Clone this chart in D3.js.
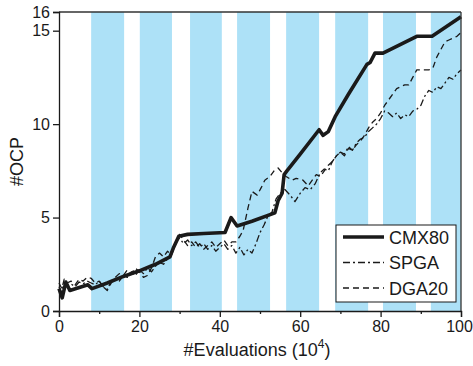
<!DOCTYPE html>
<html>
<head>
<meta charset="utf-8">
<script src="https://cdn.jsdelivr.net/npm/d3@7"></script>
<style>
  body { margin: 0; background: #fff; }
  text { font-family: "Liberation Sans", Arial, sans-serif; fill: #1a1a1a; }
</style>
</head>
<body>
<div id="chart"></div>
<script>
// shaded bands on x axis [start, end]
const bands = [[8, 16.2], [20.1, 28.1], [32.6, 40.5], [44.3, 52.5], [56.5, 64.7], [68.7, 76.9], [80.6, 88.8], [92.5, 100]];

const xTicks = [0, 20, 40, 60, 80, 100];
const xMinorTicks = [10, 30, 50, 70, 90];
const yTicks = [0, 5, 10, 15, 16];

const seriesNames = ["CMX80", "SPGA", "DGA20"];

const cmx80 = [[0,1.2],[0.8,0.7],[1.7,1.55],[2.7,1.1],[7.2,1.4],[8.2,1.2],[12,1.5],[16,1.85],[20,2.15],[24,2.5],[27.6,2.9],[28.5,3.4],[29.8,4.0],[32,4.1],[36,4.15],[41.3,4.2],[42.8,5.0],[44.3,4.55],[48,4.8],[53.7,5.25],[54.5,5.9],[55.5,6.3],[56,7.3],[56.7,7.5],[60,8.4],[64.7,9.7],[65.7,9.4],[67,9.6],[68.7,10.4],[72,11.6],[76.6,13.2],[77.4,13.3],[78.6,13.8],[80.6,13.8],[89,14.7],[92.8,14.7],[100,15.75]];

const spga = [[0,1.3],[0.6,1.0],[1.2,1.5],[2,1.35],[3,1.45],[4,1.3],[5,1.55],[6,1.45],[7,1.6],[8,1.5],[9,1.4],[10,1.6],[11,1.3],[12,1.15],[13,1.6],[14,1.75],[15,1.6],[16,1.9],[17,1.8],[18,2.1],[19,1.9],[20,2.2],[21,2.0],[22,2.3],[23,2.1],[24,2.4],[25,2.6],[26,2.5],[27,2.8],[28,3.1],[29,3.7],[30,3.9],[31,3.6],[32,3.8],[33,3.5],[34,3.7],[35,3.4],[36,3.6],[37,3.3],[38,3.5],[39,3.2],[40,3.4],[41,3.6],[42,3.3],[43,3.5],[44,3.1],[45,3.4],[46,3.0],[47,3.3],[48,3.1],[49,3.6],[50,4.2],[51,4.6],[52,5.1],[53,5.3],[54,6.0],[55,6.3],[56.2,6.5],[57.5,6.2],[58.7,5.85],[60,6.3],[61.2,6.6],[62.5,6.5],[63.7,6.8],[65,7.4],[66,7.6],[67,7.5],[68,8.0],[69,8.3],[70,8.5],[71,8.4],[72,8.8],[73,8.6],[74,9.0],[75,9.2],[76,9.3],[77,9.6],[78,9.8],[79,10.0],[80,10.3],[81,10.7],[82,10.6],[83,10.4],[84,10.6],[85,10.3],[86,10.5],[87,10.4],[88,10.7],[89,10.8],[90,11.0],[91,11.5],[92,11.8],[93,11.7],[94,12.0],[95,11.9],[96,12.2],[97,12.5],[98,12.4],[99,12.7],[100,12.9]];

const dga20 = [[0,1.5],[0.7,1.2],[1.3,1.7],[2,1.5],[3,1.6],[4,1.4],[5,1.7],[6,1.6],[7,1.8],[8,1.75],[9,1.5],[10,1.6],[11,1.3],[12,1.1],[13,1.5],[14,1.8],[15,2.0],[16,1.9],[17,2.2],[18,2.0],[19,2.3],[20,2.1],[21,1.8],[22,1.9],[23,2.3],[24,2.9],[25,3.1],[26,2.9],[27,3.2],[28,3.0],[29,3.6],[30,4.1],[31,3.8],[32,3.5],[33,3.7],[34,3.4],[35,3.6],[36,3.3],[37,3.5],[38,3.7],[39,3.4],[40,3.6],[41,3.8],[42,3.5],[43,3.7],[44,3.7],[45,4.0],[45.8,4.3],[47,5.5],[48,6.4],[49.3,6.2],[50.3,6.6],[51.2,7.0],[52.5,7.2],[53.5,7.5],[54.5,7.65],[55.5,7.4],[56.5,7.2],[58,7.0],[59,7.1],[60.7,7.0],[62,6.7],[63,7.0],[64,7.3],[65,7.2],[66,7.5],[67,7.8],[68,8.0],[69,8.3],[70,8.5],[71,8.3],[72,8.7],[73,8.6],[74,8.9],[75,9.1],[76,9.4],[77,9.8],[78,10.1],[79,10.3],[80,10.6],[81,11.0],[82,11.3],[83,11.6],[84,11.9],[85,12.0],[86,12.1],[87,12.1],[88,12.5],[89,12.9],[90,12.9],[91,12.9],[92,12.9],[93,13.0],[94,13.6],[95,14.0],[96,14.4],[97,14.5],[98,14.6],[99,14.7],[100,14.9]];

const margin = { top: 12, right: 12, bottom: 55, left: 59 };
const W = 473, H = 366;
const width = W - margin.left - margin.right;
const height = H - margin.top - margin.bottom;

const svg = d3.select("#chart").append("svg")
    .attr("width", W)
    .attr("height", H);

const g = svg.append("g")
    .attr("transform", `translate(${margin.left},${margin.top})`);

const x = d3.scaleLinear().domain([0, 100]).range([0, width]);
const y = d3.scaleLinear().domain([0, 16]).range([height, 0]);

// background bands
g.selectAll(".band")
    .data(bands)
    .enter().append("rect")
    .attr("class", "band")
    .attr("x", d => x(d[0]))
    .attr("width", d => x(d[1]) - x(d[0]))
    .attr("y", 0)
    .attr("height", height)
    .style("fill", "#ade1f7");

// lines
const line = d3.line()
    .x(d => x(d[0]))
    .y(d => y(d[1]));

const styles = [
    { data: cmx80, width: 3.6, dash: null },
    { data: spga, width: 1.3, dash: "7,3,2,3" },
    { data: dga20, width: 1.3, dash: "6,4" }
];

styles.slice().reverse().forEach(s => {
    g.append("path")
        .datum(s.data)
        .attr("d", line)
        .style("fill", "none")
        .style("stroke", "#1a1a1a")
        .style("stroke-width", s.width)
        .style("stroke-linejoin", "round")
        .style("stroke-dasharray", s.dash);
});

// frame top and right
g.append("line")
    .attr("x1", 0).attr("x2", width).attr("y1", 0).attr("y2", 0)
    .style("stroke", "#333").style("stroke-width", 1.3);
g.append("line")
    .attr("x1", width).attr("x2", width).attr("y1", 0).attr("y2", height)
    .style("stroke", "#333").style("stroke-width", 1.3);

// axes
g.append("g")
    .attr("transform", `translate(0,${height})`)
    .call(d3.axisBottom(x).tickValues(xTicks).tickSize(6).tickPadding(4).tickFormat(d3.format("d")))
    .call(a => a.selectAll(".tick text").filter(d => d === 100).attr("dx", -2));

g.append("g")
    .attr("transform", `translate(0,${height})`)
    .call(d3.axisBottom(x).tickValues(xMinorTicks).tickSize(3).tickFormat(""))
    .call(a => a.select(".domain").remove());

g.append("g")
    .call(d3.axisLeft(y).tickValues(yTicks).tickSize(6).tickPadding(3).tickFormat(d3.format("d")));

g.selectAll(".domain, .tick line")
    .style("stroke", "#1a1a1a")
    .style("stroke-width", 1.3);
g.selectAll(".tick text")
    .style("font-size", "16px")
    .style("font-family", "'Liberation Sans', Arial, sans-serif")
    .attr("fill", "#1a1a1a");

// axis titles
const xTitle = svg.append("text")
    .attr("x", margin.left + width / 2 - 3)
    .attr("y", 356)
    .attr("text-anchor", "middle")
    .style("font-size", "18px");
xTitle.append("tspan").text("#Evaluations (10");
xTitle.append("tspan").text("4").attr("dy", -8).style("font-size", "12px");
xTitle.append("tspan").text(")").attr("dy", 8);

svg.append("text")
    .attr("transform", `translate(23,${margin.top + y(8)}) rotate(-90)`)
    .attr("text-anchor", "middle")
    .style("font-size", "18px")
    .text("#OCP");

// legend
const legend = svg.append("g").attr("transform", "translate(336,225)");
legend.append("rect")
    .attr("width", 120)
    .attr("height", 77)
    .style("fill", "#fff")
    .style("stroke", "#1a1a1a")
    .style("stroke-width", 1);

seriesNames.forEach((name, i) => {
    const yy = 12 + i * 25.5;
    legend.append("line")
        .attr("x1", 7).attr("x2", 48)
        .attr("y1", yy).attr("y2", yy)
        .style("stroke", "#1a1a1a")
        .style("stroke-width", styles[i].width)
        .style("stroke-dasharray", styles[i].dash);
    legend.append("text")
        .attr("x", 53)
        .attr("y", yy + 6.5)
        .style("font-size", "18px")
        .text(name);
});
</script>
</body>
</html>
